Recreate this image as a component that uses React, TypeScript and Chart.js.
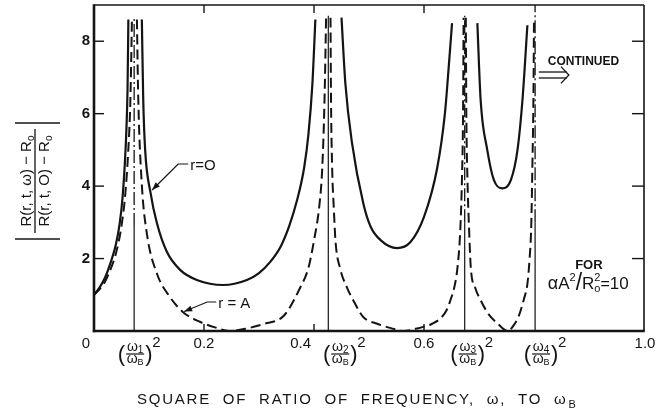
import React, { useEffect, useRef } from 'react';
import { Chart, registerables } from 'chart.js';

Chart.register(...registerables);

// ---------- axes ----------
const xRange = [0, 1];
const yRange = [0, 9];
const yTickValues = [2, 4, 6, 8];
const yTickLabels = ['2', '4', '6', '8'];
const xTickValues = [0.2, 0.4, 0.6];
const xLabelValues = [0.2, 0.4, 0.6, 1.0];
const xLabelTexts = ['0.2', '0.4', '0.6', '1.0'];
const originLabel = '0';
const xTitle = 'SQUARE  OF  RATIO  OF  FREQUENCY,  ω,  TO  ω';
const xTitleSub = 'B';

// ---------- resonances (ω_n / ω_B)^2 ----------
const omegaValues = [0.073, 0.426, 0.674, 0.802];
const omegaIndices = ['1', '2', '3', '4'];
const asymptoteSolidTop = [2.9, 8.7, 3.0, 3.0];
const asymptoteTop = [8.65, 8.7, 8.7, 9.0];

// ---------- r = 0 (solid curve), one array per branch ----------
const rZeroBranch1: [number, number][] = [
  [0, 1.0], [0.01, 1.2], [0.02, 1.47], [0.03, 1.88], [0.04, 2.4], [0.047, 3.0],
  [0.052, 3.7], [0.056, 4.6], [0.059, 5.6], [0.061, 6.7], [0.0625, 8.6],
];
const rZeroBranch2: [number, number][] = [
  [0.087, 8.6], [0.0895, 6.4], [0.093, 5.0], [0.103, 3.8], [0.114, 3.0], [0.132, 2.2],
  [0.157, 1.68], [0.187, 1.41], [0.235, 1.27], [0.278, 1.41], [0.3, 1.6], [0.32, 1.9],
  [0.34, 2.35], [0.355, 2.9], [0.369, 3.6], [0.382, 4.5], [0.39, 5.45], [0.397, 6.8], [0.4025, 8.6],
];
const rZeroBranch3: [number, number][] = [
  [0.45, 8.65], [0.457, 6.84], [0.469, 5.2], [0.49, 3.5], [0.503, 2.88], [0.521, 2.51],
  [0.551, 2.29], [0.575, 2.45], [0.6, 3.15], [0.624, 4.5], [0.638, 6.0], [0.645, 7.3], [0.651, 8.5],
];
const rZeroBranch4: [number, number][] = [
  [0.697, 8.5], [0.703, 6.37], [0.715, 5.0], [0.727, 4.17], [0.742, 3.94], [0.758, 4.17],
  [0.77, 5.0], [0.779, 6.37], [0.788, 8.44],
];

// ---------- r = A (dashed curve), one array per branch ----------
const rABranch1: [number, number][] = [
  [0, 1.0], [0.01, 1.15], [0.02, 1.36], [0.03, 1.7], [0.04, 2.15], [0.05, 2.9],
  [0.057, 3.8], [0.062, 4.9], [0.066, 6.3], [0.069, 8.6],
];
const rABranch2: [number, number][] = [
  [0.078, 8.6], [0.0805, 6.4], [0.0868, 4.08], [0.096, 2.7], [0.114, 1.6], [0.138, 0.94],
  [0.162, 0.52], [0.19, 0.27], [0.22, 0.1], [0.245, 0], [0.275, 0.06], [0.31, 0.2],
  [0.345, 0.42], [0.375, 1.2], [0.39, 1.75], [0.4, 2.5], [0.41, 3.5], [0.415, 4.5],
  [0.419, 6.3], [0.422, 8.65],
];
const rABranch3: [number, number][] = [
  [0.43, 8.65], [0.431, 6.3], [0.433, 4.5], [0.436, 3.4], [0.439, 2.5], [0.448, 1.7],
  [0.46, 1.2], [0.473, 0.8], [0.49, 0.38], [0.515, 0.2], [0.54, 0.08], [0.563, 0],
  [0.585, 0.06], [0.6, 0.12], [0.615, 0.2], [0.63, 0.35], [0.642, 0.6], [0.648, 0.85],
  [0.655, 1.2], [0.661, 1.77], [0.666, 2.8], [0.669, 4.2], [0.671, 6.0], [0.672, 8.65],
];
const rABranch4: [number, number][] = [
  [0.676, 8.65], [0.677, 6.0], [0.679, 4.2], [0.682, 2.8], [0.685, 1.77], [0.693, 1.2],
  [0.703, 0.85], [0.718, 0.45], [0.733, 0.22], [0.752, 0], [0.765, 0.2], [0.772, 0.4],
  [0.782, 0.9], [0.788, 1.3], [0.792, 2.0], [0.795, 2.9], [0.797, 4.5], [0.799, 6.5], [0.8, 8.65],
];

const rZeroBranches = [rZeroBranch1, rZeroBranch2, rZeroBranch3, rZeroBranch4];
const rABranches = [rABranch1, rABranch2, rABranch3, rABranch4];

// ---------- annotation texts ----------
const labelRZero = 'r=O';
const labelRA = 'r = A';
const labelContinued = 'CONTINUED';
const labelFor = 'FOR';

// ---------- drawing helpers ----------
const FONT = '"Liberation Sans", Arial, Helvetica, sans-serif';
const INK = '#141414';

type Run = { t: string; s: number; dy?: number; b?: boolean; adv?: boolean };
const fontOf = (r: Run) => `${r.b ? 'bold ' : ''}${r.s}px ${FONT}`;

function runsWidth(ctx: CanvasRenderingContext2D, runs: Run[]) {
  let w = 0;
  for (const r of runs) {
    ctx.font = fontOf(r);
    if (r.adv !== false) w += ctx.measureText(r.t).width;
  }
  return w;
}

function drawRuns(ctx: CanvasRenderingContext2D, runs: Run[], x: number, y: number, align: 'left' | 'center' | 'right') {
  const w = runsWidth(ctx, runs);
  let cx = align === 'left' ? x : align === 'center' ? x - w / 2 : x - w;
  ctx.textAlign = 'left';
  ctx.textBaseline = 'alphabetic';
  for (const r of runs) {
    ctx.font = fontOf(r);
    ctx.fillText(r.t, cx, y + (r.dy || 0));
    if (r.adv !== false) cx += ctx.measureText(r.t).width;
  }
  return w;
}

function seg(ctx: CanvasRenderingContext2D, x1: number, y1: number, x2: number, y2: number, w: number) {
  ctx.lineWidth = w;
  ctx.beginPath();
  ctx.moveTo(x1, y1);
  ctx.lineTo(x2, y2);
  ctx.stroke();
}

function arrowHead(ctx: CanvasRenderingContext2D, fx: number, fy: number, tx: number, ty: number, len: number, half: number) {
  const ang = Math.atan2(ty - fy, tx - fx);
  ctx.beginPath();
  ctx.moveTo(tx, ty);
  ctx.lineTo(tx - len * Math.cos(ang) + half * Math.sin(ang), ty - len * Math.sin(ang) - half * Math.cos(ang));
  ctx.lineTo(tx - len * Math.cos(ang) - half * Math.sin(ang), ty - len * Math.sin(ang) + half * Math.cos(ang));
  ctx.closePath();
  ctx.fill();
}

const figurePlugin = {
  id: 'figure',
  beforeDraw(chart: any) {
    const { ctx, width, height } = chart;
    ctx.save();
    ctx.fillStyle = '#ffffff';
    ctx.fillRect(0, 0, width, height);
    ctx.restore();
  },
  afterDatasetsDraw(chart: any) {
    const { ctx, chartArea: a, scales } = chart;
    const X = (v: number) => scales.x.getPixelForValue(v);
    const Y = (v: number) => scales.y.getPixelForValue(v);
    ctx.save();
    ctx.strokeStyle = INK;
    ctx.fillStyle = INK;
    ctx.lineCap = 'butt';
    ctx.setLineDash([]);

    // frame
    seg(ctx, a.left, a.top, a.right, a.top, 1.6);
    seg(ctx, a.right, a.top, a.right, a.bottom, 1.6);
    seg(ctx, a.left, a.top - 0.8, a.left, a.bottom + 1.2, 2.6);
    seg(ctx, a.left - 1.2, a.bottom, a.right + 0.8, a.bottom, 2.6);

    // ticks
    yTickValues.forEach((v) => {
      seg(ctx, a.left, Y(v), a.left + 10, Y(v), 1.4);
      seg(ctx, a.right - 12, Y(v), a.right, Y(v), 1.4);
    });
    xTickValues.forEach((v) => {
      seg(ctx, X(v), a.bottom, X(v), a.bottom - 7, 1.4);
      seg(ctx, X(v), a.top, X(v), a.top + 8, 1.4);
    });

    // y tick labels
    ctx.textBaseline = 'middle';
    ctx.textAlign = 'center';
    ctx.font = `bold 15px ${FONT}`;
    yTickValues.forEach((v, i) => ctx.fillText(yTickLabels[i], a.left - 8, Y(v)));

    // x tick labels
    ctx.textBaseline = 'alphabetic';
    ctx.font = `15px ${FONT}`;
    ctx.textAlign = 'center';
    ctx.fillText(originLabel, a.left - 8, a.bottom + 17);
    xLabelValues.forEach((v, i) => {
      if (v === 0.4) {
        ctx.textAlign = 'right';
        ctx.fillText(xLabelTexts[i], X(v) - 3, a.bottom + 17);
        ctx.textAlign = 'center';
      } else {
        ctx.fillText(xLabelTexts[i], X(v) + (v === 1 ? 1 : 0), a.bottom + 17);
      }
    });

    // omega labels (ω_n/ω_B)^2
    const omegaDx = [1, 12, 3, 6];
    omegaValues.forEach((v, i) => {
      const cx = X(v) + omegaDx[i];
      drawRuns(ctx, [{ t: 'ω', s: 14 }, { t: omegaIndices[i], s: 10, dy: 2 }], cx, a.bottom + 20, 'center');
      seg(ctx, cx - 9, a.bottom + 23, cx + 9, a.bottom + 23, 1.2);
      drawRuns(ctx, [{ t: 'ω', s: 14 }, { t: 'B', s: 9, dy: 2 }], cx, a.bottom + 32, 'center');
      ctx.font = `22px ${FONT}`;
      ctx.textAlign = 'right';
      ctx.fillText('(', cx - 10, a.bottom + 30);
      ctx.textAlign = 'left';
      ctx.fillText(')', cx + 10, a.bottom + 30);
      ctx.font = `15px ${FONT}`;
      ctx.fillText('2', cx + 17, a.bottom + 16);
    });

    // x title
    ctx.font = `15px ${FONT}`;
    const baseW = ctx.measureText(xTitle).width;
    ctx.font = `11px ${FONT}`;
    const subW = ctx.measureText(xTitleSub).width;
    const targetW = 438;
    const spacing = Math.max(0, (targetW - baseW - subW) / xTitle.length);
    ctx.font = `15px ${FONT}`;
    (ctx as any).letterSpacing = `${spacing.toFixed(2)}px`;
    const titleLeft = 137;
    ctx.textAlign = 'left';
    ctx.fillText(xTitle, titleLeft, 404);
    const titleW = ctx.measureText(xTitle).width;
    (ctx as any).letterSpacing = '0px';
    ctx.font = `11px ${FONT}`;
    ctx.fillText(xTitleSub, titleLeft + titleW + 1, 408);

    // y title (rotated fraction with absolute-value bars)
    ctx.save();
    ctx.translate(35, 181);
    ctx.rotate(-Math.PI / 2);
    drawRuns(ctx, [{ t: 'R(r, t, ω) − R', s: 15 }, { t: 'o', s: 10, dy: 3 }], 0, -4, 'center');
    drawRuns(ctx, [{ t: 'R(r, t, O) − R', s: 15 }, { t: 'o', s: 10, dy: 3 }], 0, 14, 'center');
    seg(ctx, -52, 0, 52, 0, 1.3);
    seg(ctx, 58, -20, 58, 25, 1.4);
    seg(ctx, -58, -20, -58, 25, 1.4);
    ctx.restore();

    // r = 0 label and leader
    ctx.lineWidth = 1.2;
    ctx.beginPath();
    ctx.moveTo(X(0.1712), Y(4.61));
    ctx.lineTo(X(0.153), Y(4.61));
    ctx.lineTo(X(0.1056), Y(3.893));
    ctx.stroke();
    arrowHead(ctx, X(0.153), Y(4.61), X(0.1056), Y(3.893), 8, 3);
    drawRuns(ctx, [{ t: labelRZero, s: 15 }], X(0.1749), Y(4.445), 'left');

    // r = A label and leader
    ctx.beginPath();
    ctx.moveTo(X(0.2222), Y(0.8006));
    ctx.lineTo(X(0.2058), Y(0.8006));
    ctx.lineTo(X(0.1639), Y(0.538));
    ctx.stroke();
    arrowHead(ctx, X(0.2058), Y(0.8006), X(0.1639), Y(0.538), 8, 3);
    drawRuns(ctx, [{ t: labelRA, s: 15 }], X(0.2259), Y(0.635), 'left');

    // CONTINUED with double arrow
    drawRuns(ctx, [{ t: labelContinued, s: 12, b: true }], X(0.8251), Y(7.344), 'left');
    const ax0 = X(0.8087), ax1 = X(0.8597);
    seg(ctx, ax0, Y(7.15), ax1, Y(7.15), 1.3);
    seg(ctx, ax0, Y(6.985), ax1, Y(6.985), 1.3);
    ctx.lineWidth = 1.3;
    ctx.beginPath();
    ctx.moveTo(X(0.849), Y(7.30));
    ctx.lineTo(X(0.8634), Y(7.068));
    ctx.lineTo(X(0.849), Y(6.836));
    ctx.stroke();

    // FOR  αA²/R₀² = 10
    drawRuns(ctx, [{ t: labelFor, s: 13, b: true }], X(0.8998), Y(1.70), 'center');
    drawRuns(ctx, [
      { t: 'α', s: 18 }, { t: 'A', s: 17 }, { t: '2', s: 11, dy: -8 },
      { t: '/', s: 23, dy: 1 }, { t: 'R', s: 17 }, { t: '2', s: 11, dy: -8, adv: false },
      { t: 'o', s: 11, dy: 3 }, { t: '=', s: 16 }, { t: '10', s: 17 },
    ], X(0.8251), Y(1.1595), 'left');

    ctx.restore();
  },
};

function toXY(pts: [number, number][]) {
  return pts.map(([x, y]) => ({ x, y }));
}

export default function App() {
  const ref = useRef<HTMLCanvasElement | null>(null);

  useEffect(() => {
    if (!ref.current) return;
    const datasets: any[] = [];
    rZeroBranches.forEach((b) =>
      datasets.push({
        data: toXY(b),
        borderColor: INK,
        borderWidth: 2.2,
        cubicInterpolationMode: 'monotone',
        pointRadius: 0,
        fill: false,
      })
    );
    rABranches.forEach((b) =>
      datasets.push({
        data: toXY(b),
        borderColor: INK,
        borderWidth: 2,
        borderDash: [10, 5],
        cubicInterpolationMode: 'monotone',
        pointRadius: 0,
        fill: false,
      })
    );
    omegaValues.forEach((v, i) => {
      datasets.push({
        data: [{ x: v, y: 0 }, { x: v, y: asymptoteSolidTop[i] }],
        borderColor: INK,
        borderWidth: 1.2,
        pointRadius: 0,
        tension: 0,
        fill: false,
      });
      if (asymptoteTop[i] > asymptoteSolidTop[i]) {
        datasets.push({
          data: [{ x: v, y: asymptoteSolidTop[i] }, { x: v, y: asymptoteTop[i] }],
          borderColor: INK,
          borderWidth: 1.3,
          borderDash: [13, 3, 2, 3],
          pointRadius: 0,
          tension: 0,
          fill: false,
        });
      }
    });

    const chart = new Chart(ref.current, {
      type: 'line',
      data: { datasets },
      options: {
        animation: false,
        responsive: false,
        maintainAspectRatio: false,
        devicePixelRatio: 1,
        layout: { padding: { left: 94, right: 21, top: 5, bottom: 86 } },
        plugins: { legend: { display: false }, tooltip: { enabled: false } },
        scales: {
          x: { type: 'linear', min: xRange[0], max: xRange[1], display: false },
          y: { type: 'linear', min: yRange[0], max: yRange[1], display: false },
        },
        elements: { point: { radius: 0 } },
        events: [],
      },
      plugins: [figurePlugin],
    });
    return () => chart.destroy();
  }, []);

  return (
    <div style={{ position: 'absolute', left: 0, top: 0, width: 665, height: 417, background: '#fff' }}>
      <canvas ref={ref} width={665} height={417} style={{ display: 'block' }} />
    </div>
  );
}
